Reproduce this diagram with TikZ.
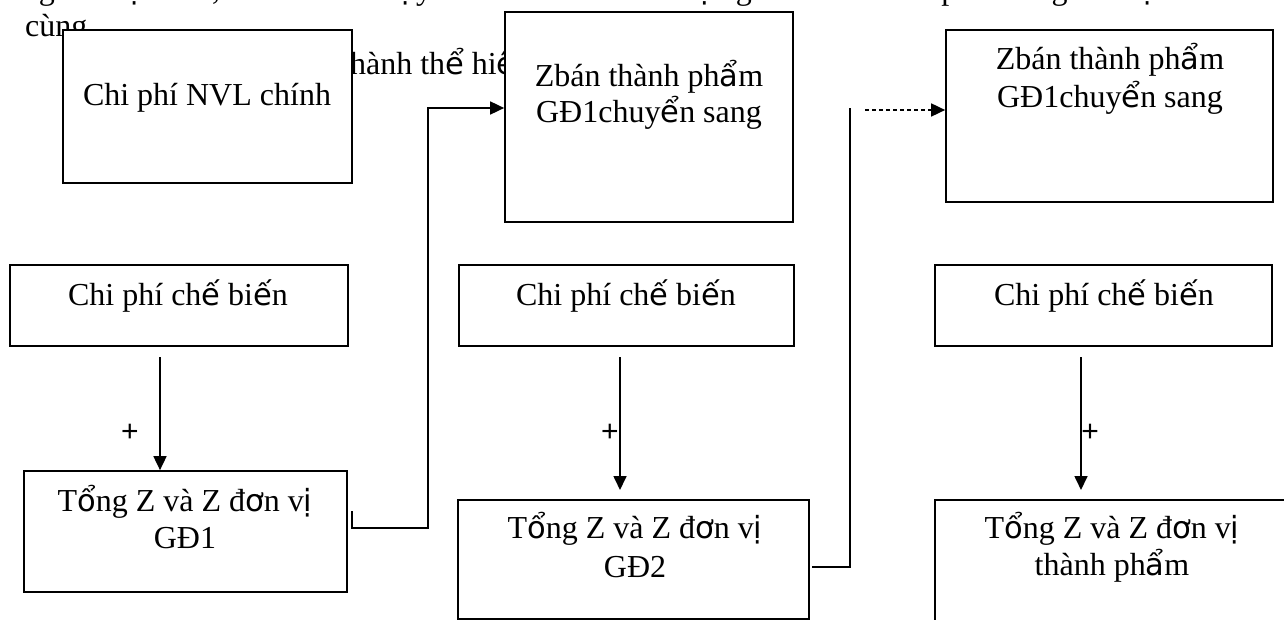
\documentclass[tikz,border=0pt]{standalone}
\usepackage{fontspec}
\setmainfont{Liberation Serif}
\newfontfamily\fbfont{DejaVu Sans}
\newfontfamily\plusfont{Liberation Sans}
\usetikzlibrary{arrows.meta}
\newcommand{\fb}[1]{{\fbfont\fontsize{30.5}{38}\selectfont #1}}
\begin{document}
\begin{tikzpicture}[x=1pt,y=-1pt,
  box/.style={draw, line width=1.7pt, fill=white, inner sep=0pt},
  lbl/.style={anchor=base, font=\fontsize{32}{38}\selectfont, inner sep=0pt},
  para/.style={anchor=base west, font=\fontsize{32}{38}\selectfont, inner sep=0pt},
  conn/.style={line width=1.7pt},
  arr/.style={line width=1.7pt, -{Triangle[length=14pt,width=13pt]}},
  dotarr/.style={line width=1.7pt, dash pattern=on 4pt off 3pt, -{Triangle[length=14pt,width=13pt]}},
  plus/.style={font=\plusfont\fontsize{30}{34}\selectfont, inner sep=0pt}]
\useasboundingbox (0,0) rectangle (1284,620);
\clip (0,0) rectangle (1284,620);
% paragraph text behind the boxes
\node[para] (p1) at (12,0) {\fb{ở} giai đo\fb{ạ}n sau, căn c\fb{ứ} nh\fb{ư} v\fb{ậ}y cho đ\fb{ế}n khi tính đ\fb{ượ}c giá thành thành ph\fb{ẩ}m \fb{ở} giai đo\fb{ạ}n cu\fb{ố}i};
\node[para] (p2) at (25,37) {cùng};
\node[para] (p3) at (341,75) {thành th\fb{ể} hi\fb{ệ}n};
% boxes
\node[box, minimum width=289pt, minimum height=153pt] (A) at (207.5,106.5) {};
\node[box, minimum width=288pt, minimum height=210pt] (B) at (649,117) {};
\node[box, minimum width=327pt, minimum height=172pt] (C) at (1109.5,116) {};
\node[box, minimum width=338pt, minimum height=81pt] (CB1) at (179,305.5) {};
\node[box, minimum width=335pt, minimum height=81pt] (CB2) at (626.5,305.5) {};
\node[box, minimum width=337pt, minimum height=81pt] (CB3) at (1103.5,305.5) {};
\node[box, minimum width=323pt, minimum height=121pt] (T1) at (185.5,531.5) {};
\node[box, minimum width=351pt, minimum height=119pt] (T2) at (633.5,559.5) {};
\node[box, minimum width=357pt, minimum height=126pt] (T3) at (1113.5,563) {};
% labels
\node[lbl] (At) at (207,106) {Chi phí NVL chính};
\node[lbl] (Bt1) at (649,87) {Zbán thành ph\fb{ẩ}m};
\node[lbl] (Bt2) at (649,123) {GĐ1chuy\fb{ể}n sang};
\node[lbl] (Ct1) at (1110,70) {Zbán thành ph\fb{ẩ}m};
\node[lbl] (Ct2) at (1110,108) {GĐ1chuy\fb{ể}n sang};
\node[lbl] (CB1t) at (178,305) {Chi phí ch\fb{ế} bi\fb{ế}n};
\node[lbl] (CB2t) at (626,305) {Chi phí ch\fb{ế} bi\fb{ế}n};
\node[lbl] (CB3t) at (1104,305) {Chi phí ch\fb{ế} bi\fb{ế}n};
\node[lbl] (T1t1) at (185,511) {T\fb{ổ}ng Z và Z đ\fb{ơ}n v\fb{ị}};
\node[lbl] (T1t2) at (185,548) {GĐ1};
\node[lbl] (T2t1) at (635,538) {T\fb{ổ}ng Z và Z đ\fb{ơ}n v\fb{ị}};
\node[lbl] (T2t2) at (635,577) {GĐ2};
\node[lbl] (T3t1) at (1112,538) {T\fb{ổ}ng Z và Z đ\fb{ơ}n v\fb{ị}};
\node[lbl] (T3t2) at (1112,575) {thành ph\fb{ẩ}m};
% plus signs
\node[plus] (pl1) at (130,433) {+};
\node[plus] (pl2) at (610,433) {+};
\node[plus] (pl3) at (1090,433) {+};
% downward arrows
\coordinate (d1) at (160,357);
\coordinate (d2) at (620,357);
\coordinate (d3) at (1081,357);
\coordinate (e2) at (620,490);
\coordinate (e3) at (1081,490);
\draw[arr] (d1) -- (d1 |- T1.north);
\draw[arr] (d2) -- (e2);
\draw[arr] (d3) -- (e3);
% connector GD1 -> B
\coordinate (c1a) at (352,511);
\coordinate (c1b) at (352,528);
\coordinate (c1c) at (428,528);
\coordinate (c1d) at (428,108);
\draw[arr] (c1a) -- (c1b) -- (c1c) -- (c1d) -- (B.west |- c1d);
% connector GD2 -> C
\coordinate (c2a) at (812,567);
\coordinate (c2b) at (850,567);
\coordinate (c2c) at (850,108);
\draw[conn] (c2a) -- (c2b) -- (c2c);
\coordinate (c2d) at (865,110);
\draw[dotarr] (c2d) -- (C.west |- c2d);
\end{tikzpicture}
\end{document}
